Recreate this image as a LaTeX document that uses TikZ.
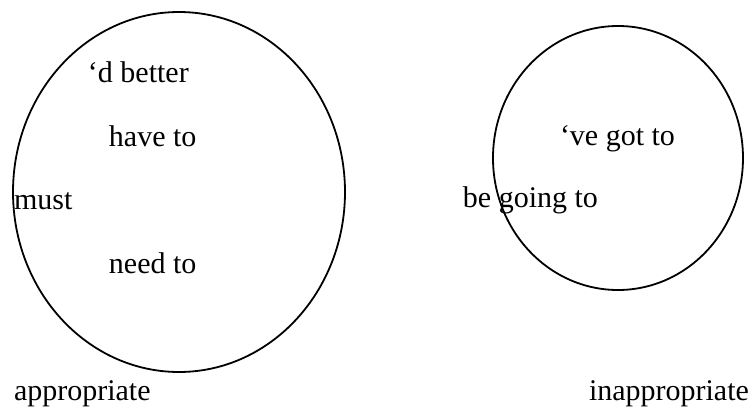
\documentclass[tikz,border=0pt]{standalone}
\usepackage{fontspec}
\setmainfont{Liberation Serif}
\begin{document}
\begin{tikzpicture}[x=0.5pt,y=-0.5pt,
  lbl/.style={anchor=base west,inner sep=0pt,outer sep=0pt,font=\fontsize{15}{18}\selectfont},
  ring/.style={draw=black,line width=0.9pt}]
\useasboundingbox (0,0) rectangle (752,408);
\draw[ring] (179,192) ellipse [x radius=166, y radius=180];
\draw[ring] (618,158) ellipse [x radius=125, y radius=132];
\node[lbl] (dbetter) at (88,82) {‘d better};
\node[lbl] (haveto) at (109,146) {have to};
\node[lbl] (must) at (14,209) {must};
\node[lbl] (needto) at (109,273) {need to};
\node[lbl] (appr) at (14,400) {appropriate};
\node[lbl] (vegot) at (560,145) {‘ve got to};
\node[lbl] (going) at (463,207) {be going to};
\node[lbl] (inappr) at (589,400) {inappropriate};
\end{tikzpicture}
\end{document}
